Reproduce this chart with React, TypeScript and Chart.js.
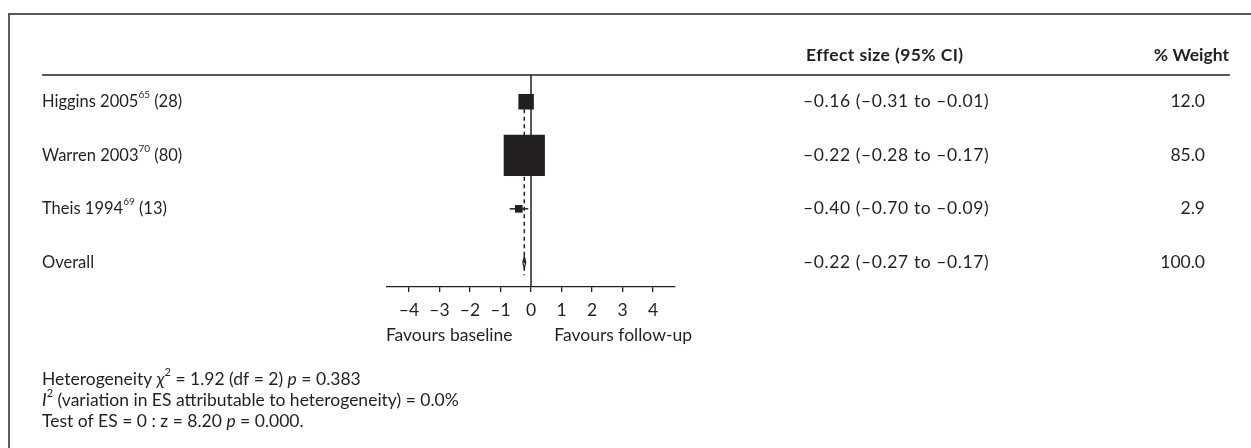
import React, { useEffect, useRef } from "react";
import { Chart, registerables } from "chart.js";

Chart.register(...registerables);

// Study rows
const studyNames = ["Higgins 2005", "Warren 2003", "Theis 1994"];
const studyRefs = ["65", "70", "69"];
const studySizes = ["28", "80", "13"];
const effectSizes = [-0.16, -0.22, -0.4];
const ciLower = [-0.31, -0.28, -0.7];
const ciUpper = [-0.01, -0.17, -0.09];
const weights = [12.0, 85.0, 2.9];

// Pooled estimate
const overallLabel = "Overall";
const overallES = -0.22;
const overallLower = -0.27;
const overallUpper = -0.17;
const overallWeight = 100.0;

// Axis
const xTicks = [-4, -3, -2, -1, 0, 1, 2, 3, 4];
const xMin = -4.72;
const xMax = 4.72;
const favoursLeft = "Favours baseline";
const favoursRight = "Favours follow-up";

// Summary statistics
const hetChi2 = 1.92;
const hetDf = 2;
const hetP = 0.383;
const iSquared = 0.0;
const zValue = 8.2;
const zP = 0.0;

const INK = "#231f20";
const FONT = "Lato, 'Open Sans', sans-serif";

const W = 1251;
const H = 448;

const fmt = (v: number, d = 2) => (v < 0 ? "\u2013" : "") + Math.abs(v).toFixed(d);
const ciText = (es: number, lo: number, hi: number) =>
  `${fmt(es)} (${fmt(lo)} to ${fmt(hi)})`;

type Part = { t: string; italic?: boolean; bold?: boolean; sup?: boolean };
type TextStyle = { size: number; spacing?: number };

function partFont(p: Part, size: number) {
  const s = p.sup ? Math.round(size * 0.62) : size;
  return `${p.italic ? "italic " : ""}${p.bold ? "bold " : ""}${s}px ${FONT}`;
}

// Draws a run of styled text pieces (italic symbols, superscripts).
function drawRich(
  ctx: any,
  parts: Part[],
  x: number,
  y: number,
  align: "left" | "right" | "center",
  style: TextStyle
) {
  const { size } = style;
  const spacing = style.spacing ?? 0;
  ctx.letterSpacing = `${spacing}px`;
  let total = 0;
  for (const p of parts) {
    ctx.font = partFont(p, size);
    total += ctx.measureText(p.t).width;
  }
  let cx = align === "left" ? x : align === "right" ? x - total : x - total / 2;
  ctx.textAlign = "left";
  ctx.textBaseline = "middle";
  for (const p of parts) {
    ctx.font = partFont(p, size);
    ctx.fillText(p.t, cx, p.sup ? y - size * 0.4 : y);
    cx += ctx.measureText(p.t).width;
  }
  ctx.letterSpacing = "0px";
}

const rows = [1, 2, 3];
const overallRow = 4;
const yTop = 0.5;
const yBottom = 4.46;

const tablePlugin = {
  id: "forestTable",
  afterDraw(chart: any) {
    const { ctx, scales } = chart;
    const ys = scales.y;
    const xs = scales.x;
    ctx.save();
    ctx.fillStyle = INK;

    // frame
    ctx.strokeStyle = "#58595b";
    ctx.lineWidth = 2;
    ctx.beginPath();
    ctx.moveTo(9, H);
    ctx.lineTo(9, 14);
    ctx.lineTo(W, 14);
    ctx.stroke();

    // header rule
    const headY = ys.getPixelForValue(yTop);
    ctx.strokeStyle = INK;
    ctx.lineWidth = 1.5;
    ctx.beginPath();
    ctx.moveTo(42, headY);
    ctx.lineTo(1230, headY);
    ctx.stroke();

    drawRich(ctx, [{ t: "Effect size (95% CI)", bold: true }], 806, 55, "left", { size: 17.5, spacing: 0.4 });
    drawRich(ctx, [{ t: "% Weight", bold: true }], 1229, 55, "right", { size: 17.5 });

    const labelStyle = { size: 16.5 };
    const esStyle = { size: 17.5, spacing: 0.6 };
    const wStyle = { size: 17.5 };
    rows.forEach((r, i) => {
      const y = ys.getPixelForValue(r);
      drawRich(
        ctx,
        [{ t: studyNames[i] }, { t: studyRefs[i], sup: true }, { t: ` (${studySizes[i]})` }],
        42,
        y,
        "left",
        labelStyle
      );
      drawRich(ctx, [{ t: ciText(effectSizes[i], ciLower[i], ciUpper[i]) }], 803, y, "left", esStyle);
      drawRich(ctx, [{ t: weights[i].toFixed(1) }], 1205, y, "right", wStyle);
    });
    const oy = ys.getPixelForValue(overallRow);
    drawRich(ctx, [{ t: overallLabel }], 42, oy, "left", labelStyle);
    drawRich(ctx, [{ t: ciText(overallES, overallLower, overallUpper) }], 803, oy, "left", esStyle);
    drawRich(ctx, [{ t: overallWeight.toFixed(1) }], 1205, oy, "right", wStyle);

    // favours captions, centred under each half of the axis
    const capY = 335;
    drawRich(ctx, [{ t: favoursLeft }], xs.getPixelForValue(-2.68), capY, "center", { size: 17.5 });
    drawRich(ctx, [{ t: favoursRight }], xs.getPixelForValue(3.02), capY, "center", { size: 17.5 });

    // summary statistics
    const noteStyle = { size: 17.5 };
    drawRich(
      ctx,
      [
        { t: "Heterogeneity " },
        { t: "\u03c7", italic: true },
        { t: "2", sup: true },
        { t: ` = ${hetChi2.toFixed(2)} (df = ${hetDf}) ` },
        { t: "p", italic: true },
        { t: ` = ${hetP.toFixed(3)}` },
      ],
      42,
      379,
      "left",
      noteStyle
    );
    drawRich(
      ctx,
      [
        { t: "I", italic: true },
        { t: "2", sup: true },
        { t: ` (variation in ES attributable to heterogeneity) = ${iSquared.toFixed(1)}%` },
      ],
      42,
      400,
      "left",
      noteStyle
    );
    drawRich(
      ctx,
      [
        { t: `Test of ES = 0 : z = ${zValue.toFixed(2)} ` },
        { t: "p", italic: true },
        { t: ` = ${zP.toFixed(3)}.` },
      ],
      42,
      421,
      "left",
      noteStyle
    );
    ctx.restore();
  },
};

export default function App() {
  const ref = useRef<HTMLCanvasElement | null>(null);

  useEffect(() => {
    if (!ref.current) return;
    // marker area proportional to study weight
    const boxSide = weights.map((w) => 4.47 * Math.sqrt(w));
    const seg = (x0: number, y0: number, x1: number, y1: number) => [
      { x: x0, y: y0 },
      { x: x1, y: y1 },
    ];
    const line = (data: any[], extra: any = {}) => ({
      type: "line",
      data,
      showLine: true,
      borderColor: INK,
      borderWidth: 1.5,
      pointRadius: 0,
      fill: false,
      tension: 0,
      ...extra,
    });
    const dh = 0.11;
    const chart = new Chart(ref.current, {
      type: "scatter",
      data: {
        datasets: [
          {
            type: "scatter",
            data: effectSizes.map((v, i) => ({ x: v, y: rows[i] })),
            pointStyle: "rect",
            pointRadius: boxSide.map((s) => s / Math.SQRT2),
            backgroundColor: INK,
            borderColor: INK,
            borderWidth: 0,
          },
          line(
            [
              { x: overallLower, y: overallRow },
              { x: overallES, y: overallRow - dh },
              { x: overallUpper, y: overallRow },
              { x: overallES, y: overallRow + dh },
              { x: overallLower, y: overallRow },
            ],
            { borderWidth: 1.2 }
          ),
          ...rows.map((r, i) => line(seg(ciLower[i], r, ciUpper[i], r))),
          line(seg(overallES, 1, overallES, 4.24), { borderDash: [4, 3.5] }),
          line(seg(0, yTop, 0, yBottom)),
        ] as any,
      },
      options: {
        responsive: false,
        animation: false,
        devicePixelRatio: 1,
        events: [],
        layout: { padding: { left: 387, right: W - 675, top: 75, bottom: H - 287 - 40 } },
        plugins: { legend: { display: false }, tooltip: { enabled: false } },
        scales: {
          x: {
            type: "linear",
            min: xMin,
            max: xMax,
            afterFit: (s: any) => {
              s.height = 40;
            },
            afterBuildTicks: (s: any) => {
              s.ticks = xTicks.map((v) => ({ value: v }));
            },
            ticks: {
              includeBounds: false,
              autoSkip: false,
              maxRotation: 0,
              padding: 8,
              color: INK,
              font: { family: FONT, size: 17.5 },
              callback: (v: any) => fmt(Number(v), 0),
            },
            grid: {
              display: true,
              drawOnChartArea: false,
              drawTicks: true,
              tickLength: 5,
              color: INK,
              lineWidth: 1.3,
            },
            border: { display: true, color: INK, width: 1.3 },
          },
          y: {
            type: "linear",
            min: yTop,
            max: yBottom,
            reverse: true,
            display: false,
          },
        },
      },
      plugins: [tablePlugin],
    } as any);
    return () => chart.destroy();
  }, []);

  return (
    <div style={{ position: "absolute", left: 0, top: 0, width: W, height: H, background: "#fff" }}>
      <canvas ref={ref} width={W} height={H} style={{ display: "block", width: W, height: H }} />
    </div>
  );
}
